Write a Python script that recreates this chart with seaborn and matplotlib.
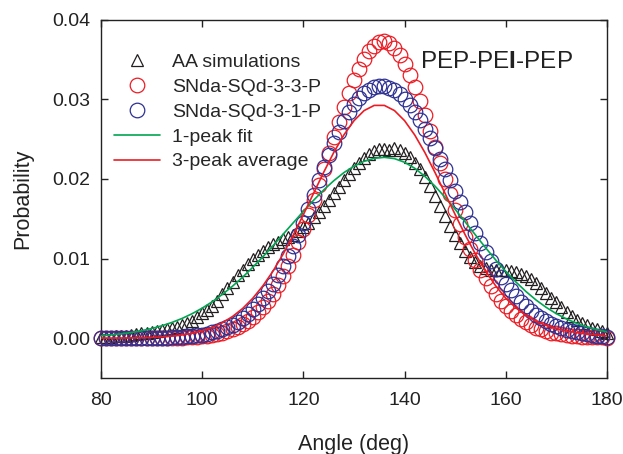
import numpy as np
import matplotlib
matplotlib.use("Agg")
import matplotlib.pyplot as plt
import seaborn as sns

# angle grid of the histograms (1 deg) and of the fitted curves (2 deg)
angle = np.arange(80, 181, 1)
angle_fit = np.arange(80, 181, 2)

aa_sim = [
    0.0002, 0.0002, 0.0002, 0.0003, 0.0003, 0.0003, 0.0004, 0.0005, 0.0006, 0.0007,
    0.0008, 0.0009, 0.0010, 0.0011, 0.0013, 0.0014, 0.0017, 0.0019, 0.0022, 0.0027,
    0.0031, 0.0035, 0.0040, 0.0047, 0.0055, 0.0063, 0.0071, 0.0079, 0.0086, 0.0093,
    0.0099, 0.0105, 0.0110, 0.0114, 0.0118, 0.0121, 0.0124, 0.0127, 0.0130, 0.0134,
    0.0139, 0.0145, 0.0152, 0.0159, 0.0166, 0.0174, 0.0182, 0.0190, 0.0198, 0.0206,
    0.0213, 0.0220, 0.0226, 0.0231, 0.0235, 0.0237, 0.0238, 0.0236, 0.0239, 0.0236,
    0.0232, 0.0227, 0.0220, 0.0212, 0.0202, 0.0191, 0.0179, 0.0166, 0.0153, 0.0141,
    0.0129, 0.0119, 0.0110, 0.0102, 0.0096, 0.0091, 0.0088, 0.0086, 0.0085, 0.0085,
    0.0085, 0.0084, 0.0083, 0.0081, 0.0078, 0.0074, 0.0069, 0.0063, 0.0057, 0.0051,
    0.0045, 0.0039, 0.0033, 0.0028, 0.0023, 0.0019, 0.0016, 0.0013, 0.0011, 0.0009,
    0.0007,
]

sqd_331 = [
    0.0, 0.0, 0.0, 0.0, 0.0, 0.0, 0.0, 0.0, 0.0, 0.0,
    0.00001, 0.00001, 0.00002, 0.00002, 0.00003, 0.00005, 0.00007, 0.0001, 0.00013, 0.00018,
    0.00023, 0.00031, 0.0004, 0.00052, 0.00068, 0.00087, 0.0011, 0.00139, 0.00173, 0.00215,
    0.00264, 0.00323, 0.00391, 0.0047, 0.0056, 0.00663, 0.00779, 0.00908, 0.01049, 0.01203,
    0.01369, 0.01546, 0.01732, 0.01924, 0.02122, 0.02322, 0.02521, 0.02717, 0.02903, 0.03078,
    0.0324, 0.03382, 0.03504, 0.03601, 0.03672, 0.03716, 0.0373, 0.0370, 0.03638, 0.03552,
    0.03441, 0.03306, 0.03152, 0.02981, 0.02797, 0.02603, 0.02404, 0.02202, 0.02001, 0.01804,
    0.01614, 0.01435, 0.0127, 0.0112, 0.0098, 0.0086, 0.0075, 0.0065, 0.0056, 0.0047,
    0.0040, 0.0034, 0.0029, 0.0024, 0.0020, 0.0016, 0.0013, 0.0011, 0.0009, 0.0007,
    0.0006, 0.0005, 0.0004, 0.0003, 0.0003, 0.0002, 0.0002, 0.0001, 0.0001, 0.0001,
    0.0,
]

sqd_31 = [
    0.0, 0.0, 0.0, 0.0, 0.00001, 0.00001, 0.00001, 0.00001, 0.00002, 0.00002,
    0.00003, 0.00004, 0.00005, 0.00007, 0.00009, 0.00012, 0.00016, 0.00021, 0.00027, 0.00035,
    0.00045, 0.00057, 0.00072, 0.0009, 0.00112, 0.00139, 0.0017, 0.00208, 0.00251, 0.00302,
    0.00361, 0.00428, 0.00503, 0.00588, 0.00684, 0.00788, 0.00903, 0.01026, 0.01159, 0.01299,
    0.01447, 0.0162, 0.0180, 0.0198, 0.0215, 0.0230, 0.0245, 0.0259, 0.0272, 0.0284,
    0.0294, 0.0302, 0.0308, 0.0312, 0.0315, 0.0316, 0.0316, 0.0314, 0.0311, 0.03063,
    0.03001, 0.02925, 0.02837, 0.02738, 0.02628, 0.0251, 0.02385, 0.02255, 0.02121, 0.01985,
    0.01848, 0.01712, 0.01578, 0.01447, 0.0132, 0.01198, 0.01082, 0.00972, 0.00869, 0.00773,
    0.00684, 0.00602, 0.00527, 0.00459, 0.00398, 0.00343, 0.00295, 0.00252, 0.00214, 0.0018,
    0.00152, 0.00127, 0.00106, 0.00087, 0.00072, 0.00059, 0.00048, 0.00039, 0.00032, 0.00025,
    0.0002,
]

fit_1peak = [
    0.0003, 0.0004, 0.00054, 0.00071, 0.00093, 0.00121, 0.00155, 0.00197, 0.00247, 0.00307,
    0.00377, 0.00458, 0.0055, 0.00653, 0.00766, 0.0089, 0.01022, 0.01161, 0.01305, 0.01449,
    0.01592, 0.0173, 0.0186, 0.01976, 0.02078, 0.02159, 0.0222, 0.02258, 0.0227, 0.02254,
    0.02208, 0.02133, 0.02032, 0.01909, 0.01769, 0.01617, 0.01458, 0.01296, 0.01136, 0.00982,
    0.00838, 0.00705, 0.00585, 0.00478, 0.00386, 0.00307, 0.00241, 0.00187, 0.00142, 0.00107,
    0.0008,
]

avg_3peak = [
    0.00001, 0.00001, 0.00002, 0.00003, 0.00006, 0.0001, 0.00016, 0.00025, 0.0004, 0.00061,
    0.00092, 0.00135, 0.00194, 0.00272, 0.00373, 0.00501, 0.00657, 0.00842, 0.01056, 0.01294,
    0.01551, 0.01817, 0.02081, 0.02331, 0.02551, 0.0273, 0.02857, 0.02922, 0.02922, 0.02857,
    0.0273, 0.02551, 0.02331, 0.02081, 0.01817, 0.01551, 0.01294, 0.01056, 0.00842, 0.00657,
    0.00501, 0.0038, 0.00285, 0.0021, 0.0016, 0.0012, 0.0009, 0.0007, 0.0005, 0.0004,
    0.0003,
]

RED = "#ec1c24"
BLUE = "#2e3192"
GREEN = "#00a651"
BLACK = "#231f20"

sns.set_style("ticks")
plt.rcParams["font.family"] = ["Liberation Sans", "DejaVu Sans"]
plt.rcParams["mathtext.fontset"] = "custom"
plt.rcParams["mathtext.rm"] = "Liberation Sans"
plt.rcParams["mathtext.bf"] = "Liberation Sans:bold"

fig = plt.figure(figsize=(6.23, 4.54), dpi=100)
ax = fig.add_axes([0.1621, 0.1674, 0.8122, 0.7896])

# symbols: simulation histograms
sns.lineplot(x=angle, y=aa_sim, ax=ax, color=BLACK, linestyle="", marker="^",
             markersize=9, markerfacecolor="none", markeredgecolor=BLACK,
             markeredgewidth=0.9, clip_on=False, zorder=2, label="AA simulations")
sns.lineplot(x=angle, y=sqd_331, ax=ax, color=RED, linestyle="", marker="o",
             markersize=10.5, markerfacecolor="none", markeredgecolor=RED,
             markeredgewidth=0.9, clip_on=False, zorder=3, label="SNda-SQd-3-3-P")
sns.lineplot(x=angle, y=sqd_31, ax=ax, color=BLUE, linestyle="", marker="o",
             markersize=10.5, markerfacecolor="none", markeredgecolor=BLUE,
             markeredgewidth=0.9, clip_on=False, zorder=4, label="SNda-SQd-3-1-P")

# lines: fitted distributions
sns.lineplot(x=angle_fit, y=fit_1peak, ax=ax, color=GREEN, linewidth=1.2,
             zorder=5, label="1-peak fit")
sns.lineplot(x=angle_fit, y=avg_3peak, ax=ax, color=RED, linewidth=1.2,
             zorder=6, label="3-peak average")

ax.set_xlim(80, 180)
ax.set_ylim(-0.005, 0.04)
ax.set_xticks(np.arange(80, 181, 20))
ax.set_yticks([0.0, 0.01, 0.02, 0.03, 0.04])
ax.yaxis.set_major_formatter(matplotlib.ticker.FormatStrFormatter("%.2f"))

for side in ["top", "right", "bottom", "left"]:
    ax.spines[side].set_visible(True)
    ax.spines[side].set_linewidth(1.0)
    ax.spines[side].set_color("#222222")
ax.tick_params(direction="in", length=5, width=1.0, top=True, right=True,
               labelsize=14, colors="#222222")
ax.tick_params(axis="x", pad=10)
ax.tick_params(axis="y", pad=8)

ax.set_xlabel("Angle (deg)", fontsize=15.5, labelpad=18, color="#222222")
ax.set_ylabel("Probability", fontsize=15.5, labelpad=13, color="#222222")

ax.text(0.933, 0.881, r"PEP-PE$\mathbf{I}$-PEP", transform=ax.transAxes,
        ha="right", va="center", fontsize=17.5, color="#222222")

handles, labels = ax.get_legend_handles_labels()
ax.legend(handles, labels, loc="upper left", bbox_to_anchor=(0.025, 0.905),
          frameon=False, fontsize=14, handlelength=2.4, handletextpad=0.6,
          labelspacing=0.37, borderpad=0, borderaxespad=0, numpoints=1)

fig.savefig("out.png", dpi=100)
